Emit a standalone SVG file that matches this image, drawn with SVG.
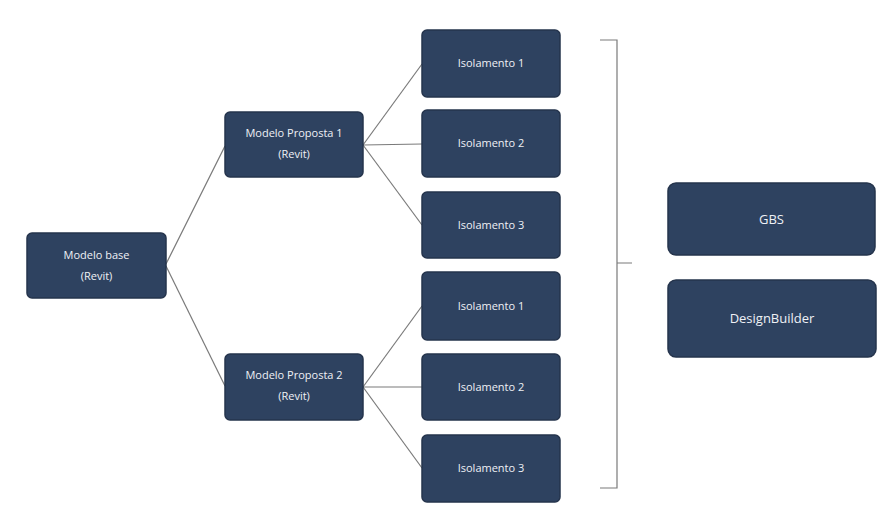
<svg xmlns="http://www.w3.org/2000/svg" width="881" height="510" viewBox="0 0 881 510">
<style>
.box{fill:#2e4260;stroke:#25344c;stroke-width:1.5}
.t{fill:#eef1f6;font-family:"Open Sans","Liberation Sans",sans-serif;font-size:11px;text-anchor:middle}
.tl{fill:#eef1f6;font-family:"Open Sans","Liberation Sans",sans-serif;font-size:13px;text-anchor:middle}
.c{stroke:#7a7a7a;stroke-width:1.2;fill:none}
</style>
<rect width="881" height="510" fill="#ffffff"/>
<g id="connectors">
<line class="c" x1="166" y1="264" x2="225" y2="146"/>
<line class="c" x1="166" y1="266" x2="225" y2="386"/>
<line class="c" x1="363" y1="145" x2="422" y2="64"/>
<line class="c" x1="363" y1="145" x2="422" y2="144"/>
<line class="c" x1="363" y1="145" x2="422" y2="225"/>
<line class="c" x1="363" y1="387" x2="422" y2="306"/>
<line class="c" x1="363" y1="387" x2="422" y2="387"/>
<line class="c" x1="363" y1="387" x2="422" y2="468"/>
<path class="c" d="M600,40 H617 V488 H600 M617,263 H632"/>
</g>
<g id="modelo-base"><rect class="box" x="27" y="233" width="139" height="65" rx="5"/><text class="t" x="96.5" y="259">Modelo base</text><text class="t" x="96.5" y="280">(Revit)</text></g>
<g id="proposta1"><rect class="box" x="225" y="112" width="138" height="65" rx="5"/><text class="t" x="294" y="137">Modelo Proposta 1</text><text class="t" x="294" y="158">(Revit)</text></g>
<g id="proposta2"><rect class="box" x="225" y="354" width="138" height="66" rx="5"/><text class="t" x="294" y="379">Modelo Proposta 2</text><text class="t" x="294" y="400">(Revit)</text></g>
<g id="iso1a"><rect class="box" x="422" y="30" width="138" height="67" rx="5"/><text class="t" x="491" y="67">Isolamento 1</text></g>
<g id="iso2a"><rect class="box" x="422" y="110" width="138" height="67" rx="5"/><text class="t" x="491" y="147">Isolamento 2</text></g>
<g id="iso3a"><rect class="box" x="422" y="192" width="138" height="66" rx="5"/><text class="t" x="491" y="229">Isolamento 3</text></g>
<g id="iso1b"><rect class="box" x="422" y="272" width="138" height="68" rx="5"/><text class="t" x="491" y="310">Isolamento 1</text></g>
<g id="iso2b"><rect class="box" x="422" y="354" width="138" height="66" rx="5"/><text class="t" x="491" y="391">Isolamento 2</text></g>
<g id="iso3b"><rect class="box" x="422" y="435" width="138" height="67" rx="5"/><text class="t" x="491" y="472">Isolamento 3</text></g>
<g id="gbs"><rect class="box" x="668" y="183" width="207" height="72" rx="8"/><text class="tl" x="771.5" y="224">GBS</text></g>
<g id="designbuilder"><rect class="box" x="668" y="280" width="208" height="77" rx="8"/><text class="tl" x="772" y="323">DesignBuilder</text></g>
</svg>
